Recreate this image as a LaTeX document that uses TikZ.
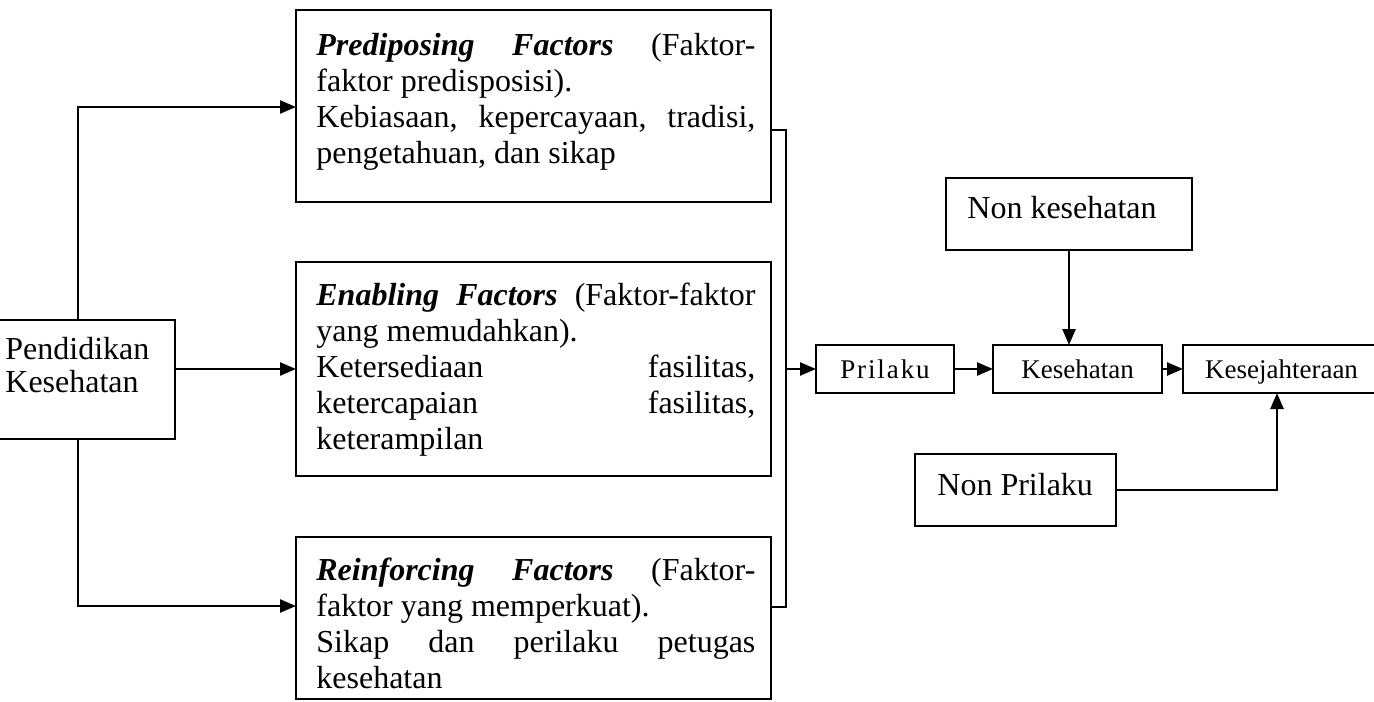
\documentclass[tikz,border=0pt]{standalone}
\usepackage{fontspec}
\setmainfont{Liberation Serif}
\usetikzlibrary{arrows.meta}
\newcommand\myline[1]{\hbox to 219.5pt{#1}}
\begin{document}
\begin{tikzpicture}[x=0.5pt,y=-0.5pt,
  box/.style={draw, line width=1.3pt, inner sep=0pt, outer sep=0pt},
  big/.style={font=\fontsize{16}{18}\selectfont},
  small/.style={font=\fontsize{13.5}{15}\selectfont, text height=9pt, text depth=0pt},
  ftext/.style={big, anchor=north west, inner sep=0pt, align=left},
  ln/.style={line width=1.2pt},
  arr/.style={ln, -{Triangle[length=8pt,width=6.5pt]}}]
\useasboundingbox (0,0) rectangle (1374,701);

% level coordinates
\coordinate (lx) at (78,0);
\coordinate (cx) at (786,0);
\coordinate (ux) at (1277,0);
\coordinate (ya) at (0,107);
\coordinate (yb) at (0,606);
\coordinate (yc) at (0,130);
\coordinate (yd) at (0,607);

% left box
\node[box, minimum width=89.5pt, minimum height=59.5pt] (P) at (85.5,379.5) {};
\node[ftext, font=\fontsize{16}{16.5}\selectfont] (Pt) at (5,335) {\rule{0pt}{12pt}Pendidikan\\Kesehatan};

% factor boxes
\node[box, minimum width=237.5pt, minimum height=96pt] (Pred) at (533.5,106) {};
\node[ftext] (Predt) at (316,31) {%
\myline{\rule{0pt}{12pt}\textbf{\textit{Prediposing}}\hfill\textbf{\textit{Factors}}\hfill(Faktor-}\\
\myline{faktor predisposisi).\hfill}\\
\myline{Kebiasaan,\hfill kepercayaan,\hfill tradisi,}\\
\myline{pengetahuan, dan sikap\hfill}};

\node[box, minimum width=237.5pt, minimum height=107pt] (Enab) at (533.5,369) {};
\node[ftext] (Enabt) at (316,281) {%
\myline{\rule{0pt}{12pt}\textbf{\textit{Enabling}} \textbf{\textit{Factors}} (Faktor-faktor}\\
\myline{yang memudahkan).\hfill}\\
\myline{Ketersediaan\hfill fasilitas,}\\
\myline{ketercapaian\hfill fasilitas,}\\
\myline{keterampilan\hfill}};

\node[box, minimum width=237.5pt, minimum height=81pt] (Rein) at (533.5,618) {};
\node[ftext] (Reint) at (316,556) {%
\myline{\rule{0pt}{12pt}\textbf{\textit{Reinforcing}}\hfill\textbf{\textit{Factors}}\hfill(Faktor-}\\
\myline{faktor yang memperkuat).\hfill}\\
\myline{Sikap\hfill dan\hfill perilaku\hfill petugas}\\
\myline{kesehatan\hfill}};

% right side
\node[box, small, minimum width=69pt, minimum height=24pt] (Pr) at (885,369) {\addfontfeatures{LetterSpace=7}Prilaku};
\node[box, small, minimum width=84.5pt, minimum height=24pt] (K) at (1077.5,369) {Kesehatan};
\node[box, small, minimum width=98.5pt, minimum height=24pt] (KJ) at (1281.5,369) {Kesejahteraan};
\node[box, minimum width=123pt, minimum height=36pt] (NK) at (1069,214) {};
\node[big, anchor=base west, inner sep=0pt] (NKt) at (967,218) {Non kesehatan};
\node[box, minimum width=100.5pt, minimum height=36pt] (NP) at (1015.5,490) {};
\node[big, anchor=base west, inner sep=0pt] (NPt) at (937,495) {Non Prilaku};

% connectors
\draw[arr] (P.north -| lx) -- (lx |- ya) -- (Pred.west |- ya);
\draw[arr] (P.south -| lx) -- (lx |- yb) -- (Rein.west |- yb);
\draw[arr] (P.east |- Enab.west) -- (Enab.west);
\draw[ln] (Pred.east |- yc) -- (cx |- yc) -- (cx |- yd) -- (Rein.east |- yd);
\draw[arr] (cx |- Pr.west) -- (Pr.west);
\draw[arr] (Pr.east) -- (K.west);
\draw[arr] (K.east) -- (KJ.west);
\draw[arr] (NK.south) -- (NK.south |- K.north);
\draw[arr] (NP.east) -- (ux |- NP.east) -- (ux |- KJ.south);
\end{tikzpicture}
\end{document}
